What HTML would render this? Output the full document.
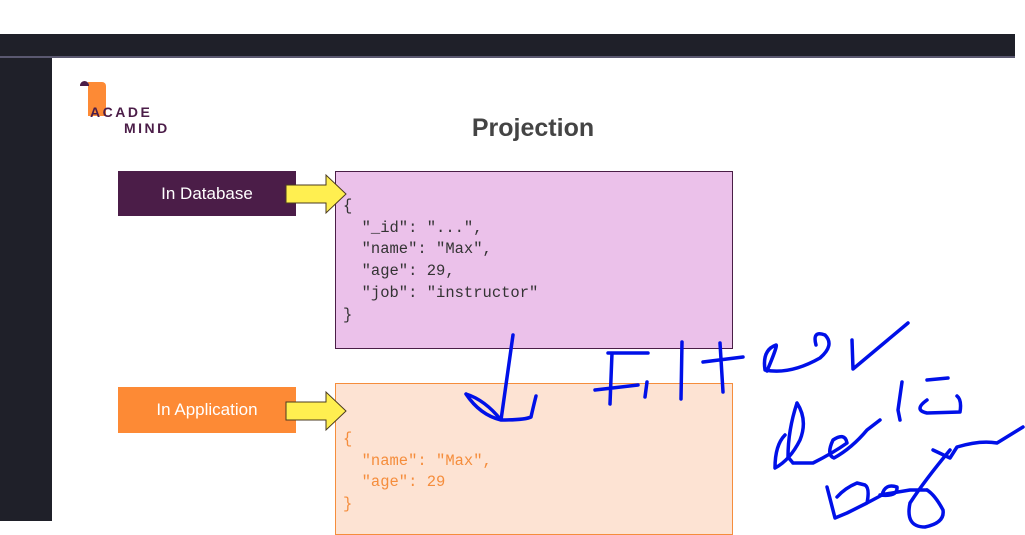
<!DOCTYPE html>
<html><head><style>
body{margin:0;width:1025px;height:531px;background:#fff;position:relative;overflow:hidden;font-family:"Liberation Sans",sans-serif}
.a{position:absolute}
pre{margin:0;font-family:"Liberation Mono","DejaVu Sans Mono",monospace;font-size:15.5px;line-height:21.7px}
</style></head><body>
<div class="a" style="left:0;top:34px;width:1015px;height:22px;background:#1f2029"></div>
<div class="a" style="left:0;top:56px;width:1015px;height:2px;background:#5a5870"></div>
<div class="a" style="left:0;top:58px;width:52px;height:463px;background:#1f2029"></div>
<!-- logo -->
<div class="a" style="left:88px;top:82px;width:18px;height:34px;background:#fd8a35;border-radius:0 4px 0 0"></div>
<div class="a" style="left:80px;top:81px;width:9px;height:5px;background:#4b1d48;border-radius:5px 5px 0 0"></div>
<div class="a" style="left:90px;top:104px;font-weight:bold;font-size:14px;letter-spacing:2.5px;color:#4b1d48">ACADE</div>
<div class="a" style="left:124px;top:120px;font-weight:bold;font-size:14px;letter-spacing:2.5px;color:#4b1d48">MIND</div>
<div class="a" style="left:433px;top:114px;width:200px;text-align:center;font-weight:bold;font-size:25px;color:#444">Projection</div>
<div class="a" style="left:118px;top:171px;width:178px;height:45px;background:#4b1d48;color:#fff;font-size:17px;line-height:45px;text-align:center">In Database</div>
<div class="a" style="left:118px;top:387px;width:178px;height:46px;background:#fd8a35;color:#fff;font-size:17px;line-height:46px;text-align:center">In Application</div>
<div class="a" style="left:335px;top:171px;width:396px;height:176px;background:#ebc1ea;border:1px solid #4a1e47"></div>
<div class="a" style="left:335px;top:383px;width:396px;height:150px;background:#fde3d3;border:1px solid #f58d3c"></div>
<pre class="a" style="left:343px;top:196px;color:#333">{
  "_id": "...",
  "name": "Max",
  "age": 29,
  "job": "instructor"
}</pre>
<pre class="a" style="left:343px;top:429px;color:#f58d3c">{
  "name": "Max",
  "age": 29
}</pre>
<svg class="a" style="left:0;top:0" width="1025" height="531">
<polygon points="286,185 326,185 326,175 346,194 326,213 326,203 286,203" fill="#ffef50" stroke="#4a3a20"/>
<polygon points="286,402 326,402 326,392 346,411 326,430 326,420 286,420" fill="#ffef50" stroke="#4a3a20"/>
<g fill="none" stroke="#0010e8" stroke-width="3.5" stroke-linecap="round" stroke-linejoin="round">
<path d="M513,335 Q508,370 501,420 M466,394 Q485,400 501,420 Q480,415 466,394 M501,420 Q525,420 531,417 Q533,408 536,396"/>
<path d="M608,353 L648,353 M612,353 L610,404 M595,390 L638,385 M647,382 L645,397 M682,342 L681,399 M703,362 L743,357 M720,343 L723,392"/>
<path d="M767,371 Q778,345 776,345 Q762,350 765,370 Q790,375 820,358 Q835,345 825,335 Q812,330 816,345 M852,340 L853,369 L908,323"/>
<path d="M797,403 Q788,430 788,457 L793,463 M797,403 Q808,420 800,440 Q790,460 775,468 Q775,445 785,435 M793,463 L813,463 Q833,453 847,443 Q845,432 833,440 Q826,455 834,458 Q852,448 867,430 L880,420 M902,382 L898,410 L900,420 M927,400 Q913,410 927,413 L960,412 Q962,400 957,396 M927,380 L948,378"/>
<path d="M933,450 L950,458 L957,447 Q980,440 997,443 L1023,427"/>
<path d="M950,450 Q925,480 910,503 Q905,527 925,527 Q945,523 943,510 Q935,495 927,490"/>
<path d="M827,487 L835,518 L847,513 L867,503 Q870,488 865,485 L857,483 Q845,488 837,497 M867,503 L882,495 Q885,483 897,487 Q898,497 880,495 M880,495 L910,490 L927,490"/>
</g>
</svg>
</body></html>
